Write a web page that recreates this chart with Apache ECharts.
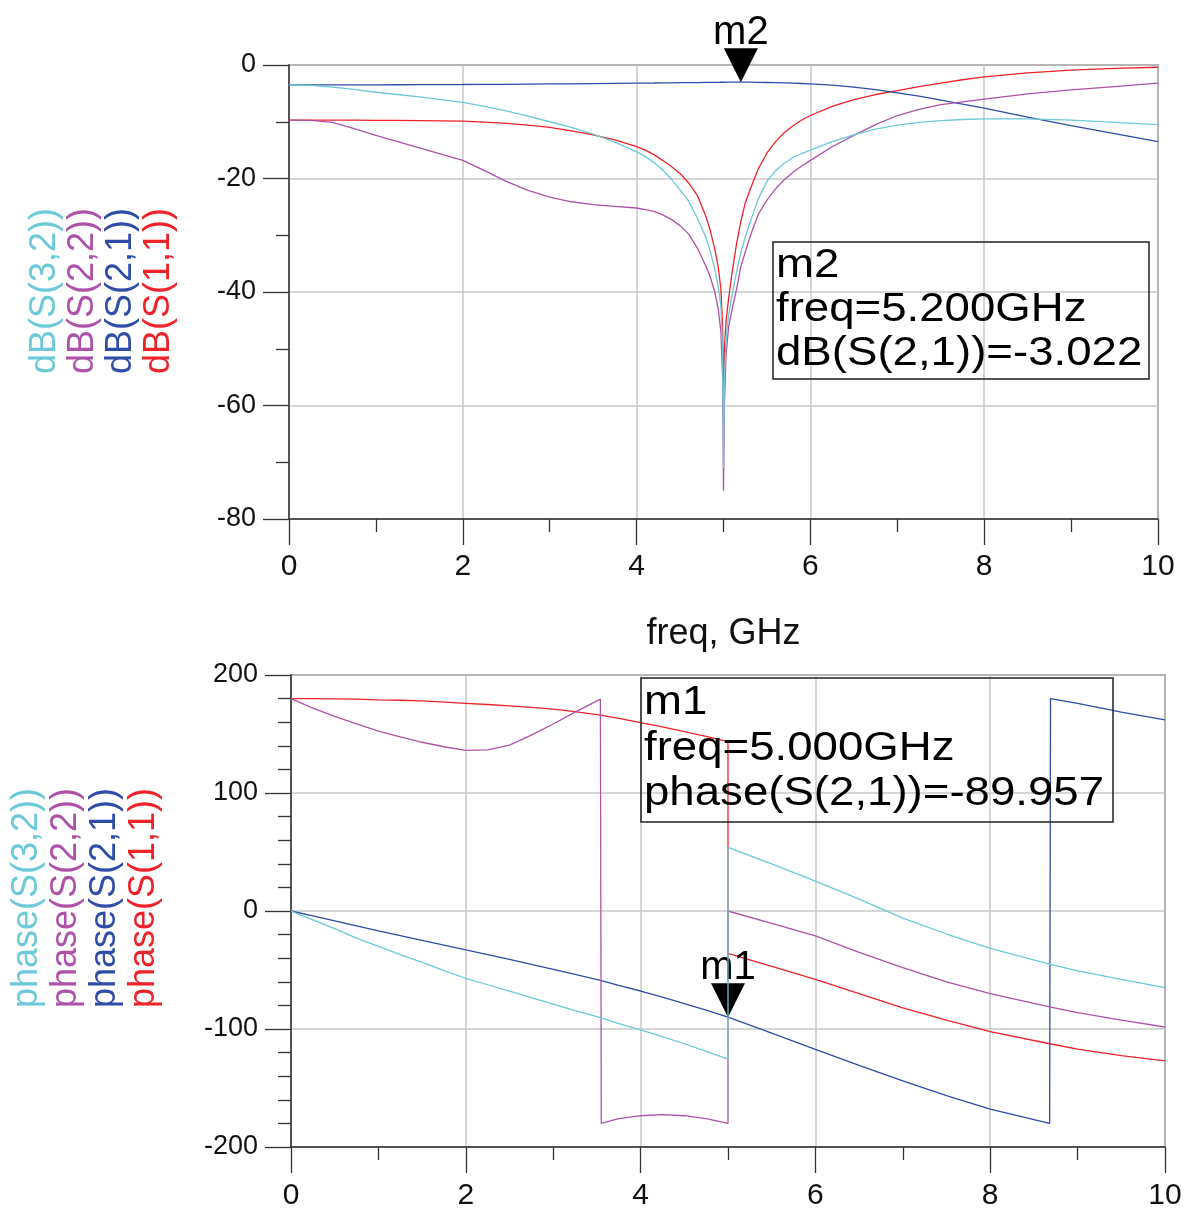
<!DOCTYPE html>
<html>
<head>
<meta charset="utf-8">
<title>S-parameter sweep</title>
<script src="https://cdn.jsdelivr.net/npm/echarts/dist/echarts.min.js"></script>
<style>
  html, body { margin: 0; padding: 0; background: #ffffff; }
  #chart { width: 1186px; height: 1209px; }
</style>
</head>
<body>
<div id="chart"></div>
<script>
// ---- magnitude sweep (dB) ----
const freqDb = [0, 0.25, 0.5, 0.75, 1, 1.25, 1.5, 1.75, 2, 2.25, 2.5, 2.75, 3, 3.25, 3.5, 3.75, 4,
  4.1, 4.2, 4.3, 4.4, 4.5, 4.6, 4.7, 4.8, 4.85, 4.9, 4.94, 4.97, 4.99,
  5, 5.01, 5.03, 5.06, 5.1, 5.15, 5.2, 5.25, 5.3, 5.4, 5.5, 5.6, 5.7, 5.8, 5.9, 6,
  6.25, 6.5, 6.75, 7, 7.25, 7.5, 7.75, 8, 8.5, 9, 9.5, 10];
const dbS11 = [-9.7, -9.7, -9.7, -9.72, -9.75, -9.77, -9.8, -9.85, -9.9, -10.05, -10.3, -10.6, -11.0, -11.6, -12.3, -13.2, -14.4,
  -15.0, -15.8, -16.8, -17.9, -19.1, -20.8, -23.0, -26.8, -29.3, -32.5, -35.6, -39.5, -46.0,
  -62.0, -50.0, -45.0, -41.0, -36.5, -31.5, -27.5, -24.3, -22.2, -18.3, -15.5, -13.5, -11.9, -10.7, -9.7, -8.9,
  -7.3, -6.1, -5.2, -4.5, -3.8, -3.2, -2.6, -2.1, -1.4, -0.9, -0.6, -0.4];
const dbS21 = [-3.50, -3.50, -3.50, -3.495, -3.49, -3.48, -3.47, -3.455, -3.44, -3.42, -3.40, -3.37, -3.34, -3.31, -3.27, -3.24, -3.20,
  -3.18, -3.17, -3.15, -3.14, -3.12, -3.10, -3.09, -3.07, -3.06, -3.05, -3.05, -3.04, -3.04,
  -3.04, -3.04, -3.03, -3.03, -3.03, -3.025, -3.022, -3.025, -3.03, -3.05, -3.08, -3.12, -3.16, -3.21, -3.26, -3.32,
  -3.55, -3.90, -4.35, -4.90, -5.50, -6.20, -6.90, -7.60, -9.2, -10.7, -12.1, -13.5];
const dbS22 = [-9.7, -9.75, -10.1, -11.2, -12.4, -13.5, -14.6, -15.7, -16.8, -18.6, -20.5, -22.1, -23.3, -24.1, -24.6, -24.9, -25.2,
  -25.5, -25.8, -26.4, -27.2, -28.3, -29.8, -32.3, -35.5, -37.5, -40.0, -43.0, -47.0, -55.0,
  -75.0, -60.0, -51.0, -46.0, -43.0, -39.5, -35.5, -33.0, -30.5, -26.3, -23.8, -21.8, -20.2, -18.9, -17.8, -16.8,
  -14.4, -12.4, -10.5, -8.9, -7.8, -7.0, -6.5, -6.0, -5.1, -4.4, -3.8, -3.2];
const dbS32 = [-3.5, -3.6, -3.9, -4.3, -4.8, -5.2, -5.6, -6.1, -6.6, -7.3, -8.1, -9.0, -10.0, -11.0, -12.2, -13.6, -15.3,
  -16.1, -17.2, -18.5, -20.1, -22.0, -24.0, -27.0, -30.5, -33.0, -36.0, -39.0, -42.5, -50.0,
  -71.0, -56.0, -48.0, -44.0, -40.5, -36.5, -33.0, -30.3, -28.0, -23.6, -20.5, -18.6, -17.3, -16.3, -15.6, -15.0,
  -13.5, -12.3, -11.3, -10.6, -10.1, -9.8, -9.6, -9.5, -9.5, -9.7, -10.1, -10.5];

// ---- phase sweep (degrees); repeated frequencies mark the wrap jumps ----
const freqPhase = [0, 0.25, 0.5, 0.75, 1, 1.25, 1.5, 1.75, 2, 2.25, 2.5, 2.75, 3, 3.25, 3.54, 3.55, 3.75, 4,
  4.25, 4.5, 4.75, 5, 5, 5.5, 6, 6.5, 7, 7.5, 8, 8.68, 8.69, 9, 9.5, 10];
const phaseS11 = [180, 180, 179.8, 179.5, 179, 178.6, 178, 177, 176, 175, 173.8, 172.5, 171, 169, 166, 166,
  163.3, 159.6, 156, 152, 148, 143.5, -36, -47, -58, -70, -82, -92.5, -102.3, -112.5, -112.7, -117, -122.5, -127];
const phaseS21 = [0, -4.2, -8.4, -12.6, -16.8, -20.8, -24.8, -28.9, -33, -37, -41, -45.2, -49.4, -53.7, -58.8,
  -59, -63, -67.8, -73, -78.5, -84, -89.957, -89.957, -103.5, -117.3, -130.8, -144, -156.5, -168, -180, 180, 176,
  168.5, 162];
const phaseS22 = [180, 172, 165, 158.5, 152.5, 147.5, 143, 139.2, 136.2, 136.6, 140.5, 149, 158.5, 168.5, 179.5, -180,
  -176, -173.5, -172.5, -173.5, -176, -180, 0, -10.5, -21, -35, -48, -60, -70, -81.3, -81.5, -86.2, -92.5, -98.3];
const phaseS32 = [0, -7.5, -15, -23, -30, -37, -43.5, -50.5, -57, -62.5, -68, -73.5, -79, -84.5, -90.4, -90.6,
  -95.5, -100.8, -106.5, -112.5, -119, -125.5, 54, 40, 25.4, 10, -6, -19.5, -31.6, -45, -45.2, -50.8, -58, -65];

// ---- axis ranges and step sizes ----
const freqRange = [0, 10];
const freqStep = 2;
const dbRange = [-80, 0];
const dbStep = 20;
const phaseRange = [-200, 200];
const phaseStep = 100;

// ---- markers ----
const markerM2 = { name: 'm2', freq: 5.2, value: -3.022, trace: 'dB(S(2,1))' };
const markerM1 = { name: 'm1', freq: 5.0, value: -89.957, trace: 'phase(S(2,1))' };

const COLORS = { s11: '#EE2228', s21: '#2F4DA6', s22: '#AE52A9', s32: '#6BC9D8' };
const FONT = '"Liberation Sans", Arial, Helvetica, sans-serif';

function pairs(xs, ys) { return xs.map((x, i) => [x, ys[i]]); }

function trace(name, xs, ys, color, idx, z, extra) {
  return Object.assign({
    type: 'line', name, xAxisIndex: idx, yAxisIndex: idx,
    data: pairs(xs, ys), symbol: 'none', showSymbol: false, animation: false,
    lineStyle: { color, width: 1.3 }, itemStyle: { color }, z, silent: true
  }, extra || {});
}

function markerPoint(m) {
  return {
    silent: true, animation: false,
    symbol: 'path://M0,0L20,0L10,20Z', symbolSize: [34, 34], symbolOffset: [0, '-50%'],
    itemStyle: { color: '#000' },
    label: { show: true, position: 'top', distance: -5, formatter: m.name,
             fontSize: 40, color: '#000', fontFamily: FONT },
    data: [{ coord: [m.freq, m.value] }]
  };
}

function xAxisCfg(idx, withName, labelMargin) {
  const cfg = {
    gridIndex: idx, type: 'value', min: freqRange[0], max: freqRange[1], interval: freqStep,
    axisLine: { show: true, onZero: false, lineStyle: { color: '#333', width: 1.5 } },
    axisTick: { show: true, inside: false, length: 26, lineStyle: { color: '#333', width: 1.3 } },
    minorTick: { show: true, splitNumber: 2, length: 13, lineStyle: { color: '#333', width: 1.3 } },
    splitLine: { show: true, lineStyle: { color: '#c8c8c8', width: 1.5 } },
    axisLabel: { fontSize: 30, color: '#111', margin: labelMargin, fontFamily: FONT }
  };
  if (withName) {
    cfg.name = 'freq, GHz';
    cfg.nameLocation = 'middle';
    cfg.nameGap = 97;
    cfg.nameTextStyle = { fontSize: 36, color: '#111', fontFamily: FONT };
  }
  return cfg;
}

function yAxisCfg(idx, range, step, minorSplit) {
  return {
    gridIndex: idx, type: 'value', min: range[0], max: range[1], interval: step,
    axisLine: { show: true, onZero: false, lineStyle: { color: '#333', width: 1.5 } },
    axisTick: { show: true, inside: false, length: 26, lineStyle: { color: '#333', width: 1.3 } },
    minorTick: { show: true, splitNumber: minorSplit, length: 13, lineStyle: { color: '#333', width: 1.3 } },
    splitLine: { show: true, lineStyle: { color: '#c8c8c8', width: 1.5 } },
    axisLabel: { fontSize: 27, color: '#111', margin: 33, fontFamily: FONT }
  };
}

// stacked, rotated trace labels to the left of each plot
function sideTitles(texts, xs, cy) {
  const cols = [COLORS.s32, COLORS.s22, COLORS.s21, COLORS.s11];
  return texts.map((t, i) => ({
    type: 'text', x: xs[i], y: cy, rotation: Math.PI / 2, silent: true,
    style: { text: t, fill: cols[i], font: '36px ' + FONT, textAlign: 'center', textVerticalAlign: 'middle' }
  }));
}

// readout box for a marker
function readout(m, box, lineY, unitsFmt) {
  const els = [{
    type: 'rect', silent: true, z: 50,
    shape: { x: box[0], y: box[1], width: box[2], height: box[3] },
    style: { fill: 'none', stroke: '#222', lineWidth: 1.5 }
  }];
  const lines = [m.name, 'freq=' + m.freq.toFixed(3) + 'GHz', m.trace + '=' + unitsFmt(m.value)];
  lines.forEach((t, i) => els.push({
    type: 'text', x: box[0] + 3, y: lineY[i], scaleX: 1.14, silent: true, z: 51,
    style: { text: t, fill: '#000', font: '40px ' + FONT, textAlign: 'left', textVerticalAlign: 'middle' }
  }));
  return els;
}

const chart = echarts.init(document.getElementById('chart'), null, { renderer: 'canvas' });

// fixed plot rectangles; no automatic shrinking to fit the axis labels
const gridBase = { show: true, borderColor: '#555', borderWidth: 1.5, backgroundColor: 'transparent',
                   containLabel: false, outerBoundsMode: 'none' };

const option = {
  backgroundColor: '#ffffff',
  animation: false,
  grid: [
    Object.assign({ left: 289, top: 65, width: 869, height: 454 }, gridBase),
    Object.assign({ left: 291, top: 675, width: 874, height: 472 }, gridBase)
  ],
  xAxis: [xAxisCfg(0, true, 33), xAxisCfg(1, false, 34)],
  yAxis: [yAxisCfg(0, dbRange, dbStep, 2), yAxisCfg(1, phaseRange, phaseStep, 5)],
  series: [
    trace('dB(S(1,1))', freqDb, dbS11, COLORS.s11, 0, 2),
    trace('dB(S(2,1))', freqDb, dbS21, COLORS.s21, 0, 3, { markPoint: markerPoint(markerM2) }),
    trace('dB(S(2,2))', freqDb, dbS22, COLORS.s22, 0, 4),
    trace('dB(S(3,2))', freqDb, dbS32, COLORS.s32, 0, 5),
    trace('phase(S(1,1))', freqPhase, phaseS11, COLORS.s11, 1, 2),
    trace('phase(S(2,1))', freqPhase, phaseS21, COLORS.s21, 1, 3, { markPoint: markerPoint(markerM1) }),
    trace('phase(S(2,2))', freqPhase, phaseS22, COLORS.s22, 1, 4),
    trace('phase(S(3,2))', freqPhase, phaseS32, COLORS.s32, 1, 5)
  ],
  graphic: [].concat(
    sideTitles(['dB(S(3,2))', 'dB(S(2,2))', 'dB(S(2,1))', 'dB(S(1,1))'], [45, 83, 121, 159], 291),
    sideTitles(['phase(S(3,2))', 'phase(S(2,2))', 'phase(S(2,1))', 'phase(S(1,1))'], [27, 66, 105, 144], 898),
    readout(markerM2, [773, 242, 376, 137], [266, 310, 354], v => v.toFixed(3)),
    readout(markerM1, [641, 678, 472, 144], [703, 749, 794], v => v.toFixed(3))
  )
};

chart.setOption(option);
</script>
</body>
</html>
